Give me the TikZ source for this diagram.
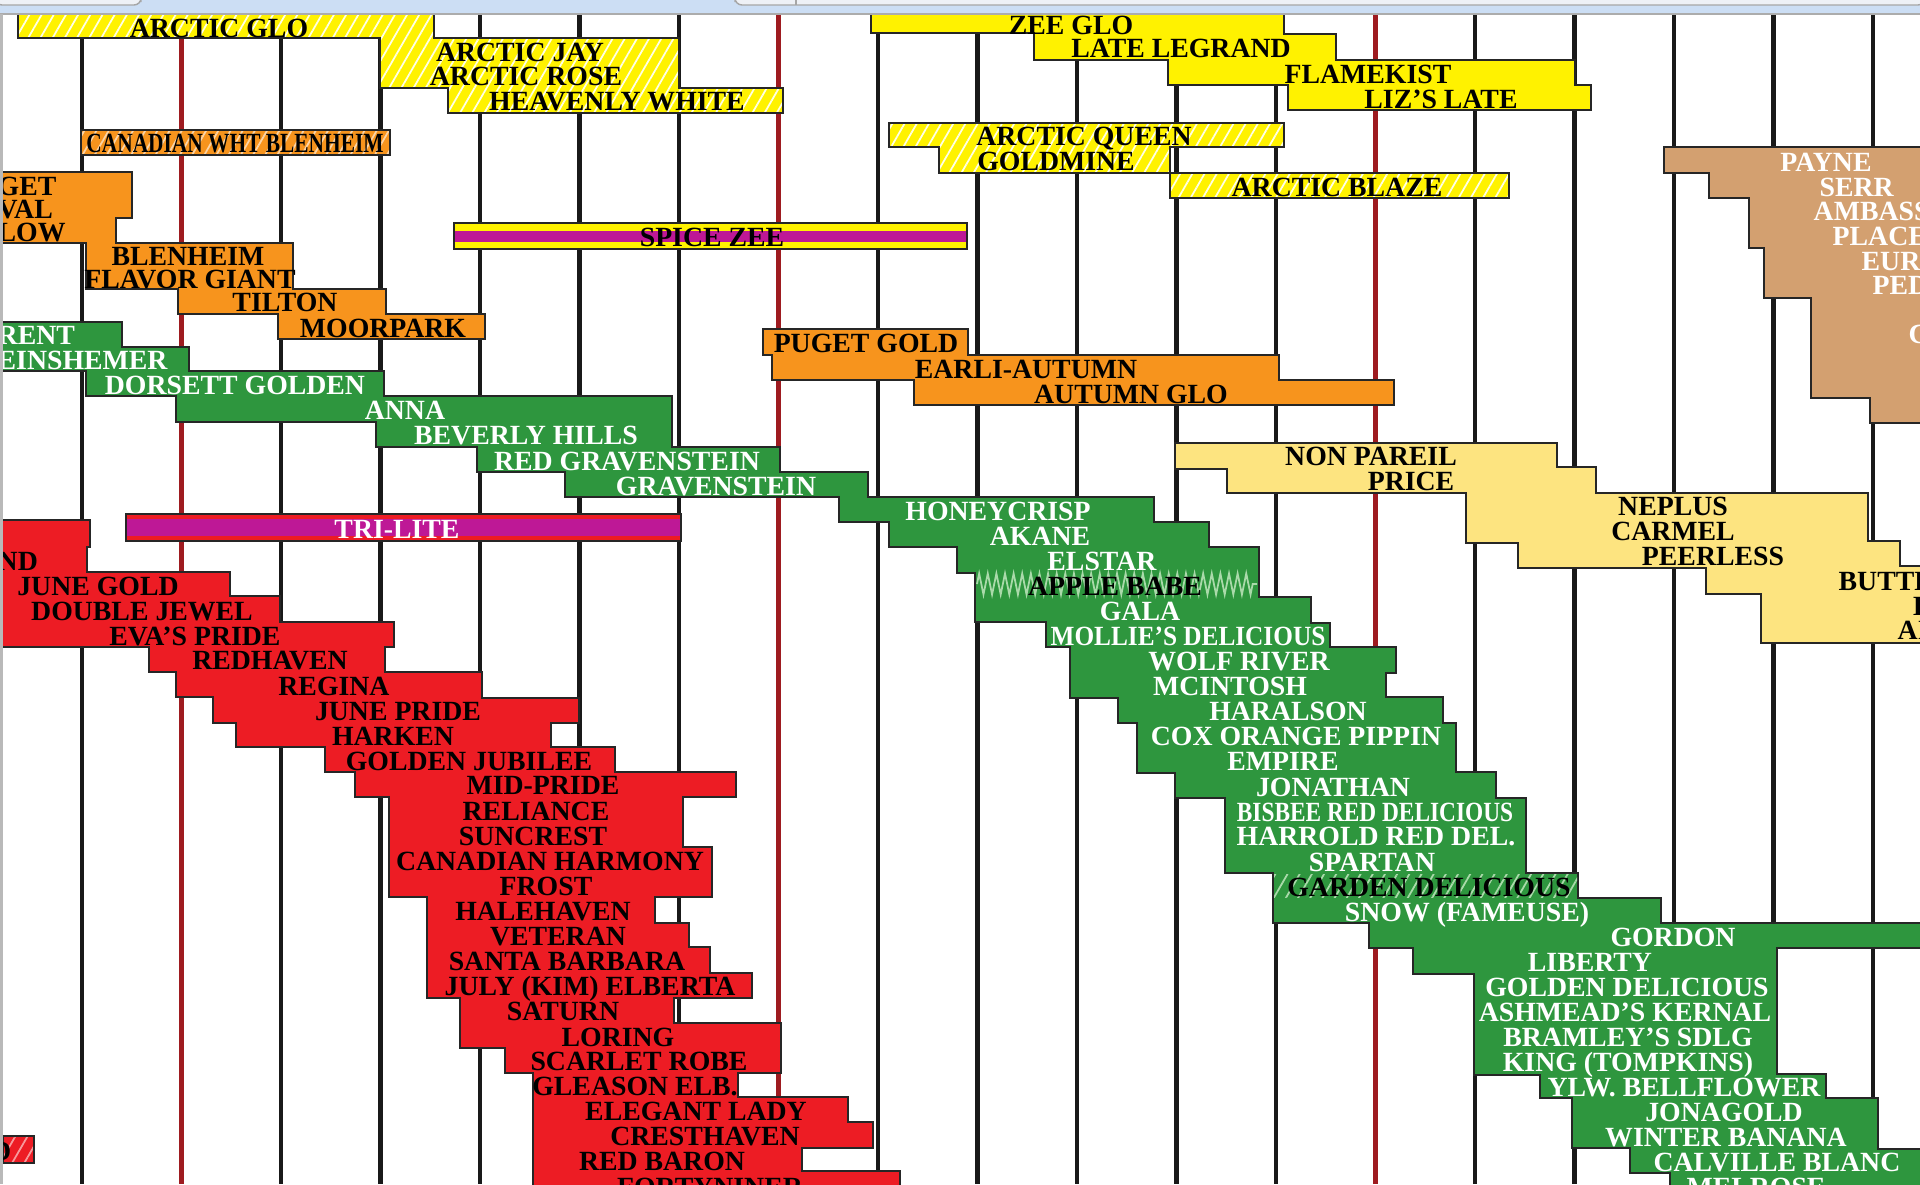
\documentclass[tikz,border=0pt]{standalone}
\usepackage{fontspec}
\setmainfont{Liberation Serif}
\usepackage{xcolor}
\usepackage{graphicx}
\usetikzlibrary{patterns.meta,decorations.pathmorphing}

\definecolor{chartyellow}{RGB}{255,242,0}
\definecolor{chartorange}{RGB}{247,148,29}
\definecolor{chartgreen}{RGB}{46,150,62}
\definecolor{chartred}{RGB}{237,28,36}
\definecolor{paleyellow}{RGB}{253,228,128}
\definecolor{chartan}{RGB}{211,160,112}
\definecolor{spicemagenta}{RGB}{190,24,150}
\definecolor{darkred}{RGB}{158,27,32}
\definecolor{chromeblue}{RGB}{204,222,244}
\definecolor{chromegray}{RGB}{238,241,246}
\definecolor{zigcolor}{RGB}{170,218,170}

\tikzset{
  bar/.style={draw=black!85, line width=0.35pt},
  lbl/.style={inner sep=0pt, text height=0.66em, text depth=0pt, yshift=0.4pt, font=\fontsize{7.9}{8}\selectfont\bfseries},
  wlbl/.style={lbl, text=white},
  gridline/.style={line width=1.25pt, black!90},
  redgrid/.style={line width=1.7pt, darkred},
  hatch/.style={pattern={Lines[angle=60, distance=3pt, line width=0.5pt]}, pattern color=#1},
}

\begin{document}
\begin{tikzpicture}[x=0.01cm, y=-0.01cm]

% Page size and background
\useasboundingbox (0,0) rectangle (1920,1184);
\fill[white] (0,0) rectangle (1920,1184);
\clip (0,0) rectangle (1920,1184);

% Grid parameters
\def\xstart{82} % first line
\def\xstep{99.5} % spacing of the lines

% Draw the vertical lines (every sixth one dark red)
\foreach \k in {0,...,18}{
  \pgfmathsetmacro{\xx}{\xstart+\xstep*\k}
  \pgfmathtruncatemacro{\m}{mod(\k,6)}
  \ifnum\m=1
    \draw[redgrid] (\xx,15) -- (\xx,1184);
  \else
    \draw[gridline] (\xx,15) -- (\xx,1184);
  \fi
}

% Yellow hatched block, top left
\path[fill=chartyellow, postaction={hatch=white!90!yellow}, postaction={bar}]
  (18,12) -- (434,12) -- (434,38) -- (679,38) -- (679,88) -- (783,88) -- (783,113)
  -- (448,113) -- (448,88) -- (380,88) -- (380,38) -- (18,38) -- cycle;

% Orange hatched bar
\path[fill=chartorange, postaction={hatch=white!60!chartorange}, postaction={bar}]
  (81,130) rectangle (390,155);

% Orange staircase, left
\path[fill=chartorange, bar]
  (-5,172) -- (132,172) -- (132,218) -- (116,218) -- (116,243) -- (293,243) -- (293,289)
  -- (386,289) -- (386,314) -- (485,314) -- (485,339) -- (278,339) -- (278,314)
  -- (178,314) -- (178,289) -- (86,289) -- (86,243) -- (-5,243) -- cycle;

% Striped bars
\filldraw[fill=chartyellow, bar] (454,223) rectangle (967,249);
\fill[spicemagenta] (455,231) rectangle (966,242);
\filldraw[fill=chartred, bar] (126,514) rectangle (681,541);
\fill[spicemagenta] (127,519) rectangle (680,536);

% Yellow staircase, top
\path[fill=chartyellow, bar]
  (871,12) -- (1284,12) -- (1284,34) -- (1336,34) -- (1336,60) -- (1575,60) -- (1575,85)
  -- (1591,85) -- (1591,110) -- (1288,110) -- (1288,85) -- (1168,85) -- (1168,60)
  -- (1034,60) -- (1034,33) -- (871,33) -- cycle;

% Yellow hatched staircase, middle
\path[fill=chartyellow, postaction={hatch=white!90!yellow}, postaction={bar}]
  (889,123) -- (1284,123) -- (1284,147) -- (1170,147) -- (1170,173) -- (1509,173)
  -- (1509,198) -- (1170,198) -- (1170,173) -- (939,173) -- (939,147) -- (889,147) -- cycle;

% Orange staircase, middle
\path[fill=chartorange, bar]
  (763,329) -- (968,329) -- (968,355) -- (1279,355) -- (1279,380) -- (1394,380)
  -- (1394,405) -- (914,405) -- (914,380) -- (772,380) -- (772,355) -- (763,355) -- cycle;

% Tan staircase, right
\path[fill=chartan, bar]
  (1664,147) -- (1930,147) -- (1930,423) -- (1870,423) -- (1870,398) -- (1811,398)
  -- (1811,298) -- (1764,298) -- (1764,248) -- (1749,248) -- (1749,198) -- (1709,198)
  -- (1709,173) -- (1664,173) -- cycle;

% Pale yellow staircase
\path[fill=paleyellow, bar]
  (1175,443) -- (1557,443) -- (1557,467) -- (1596,467) -- (1596,493) -- (1868,493)
  -- (1868,541) -- (1900,541) -- (1900,566) -- (1930,566) -- (1930,643) -- (1761,643)
  -- (1761,594) -- (1706,594) -- (1706,568) -- (1518,568) -- (1518,543) -- (1466,543)
  -- (1466,493) -- (1227,493) -- (1227,469) -- (1175,469) -- cycle;

% Green staircase
\path[fill=chartgreen, bar]
  (-5,322) -- (122,322) -- (122,347) -- (189,347) -- (189,371) -- (384,371) -- (384,396)
  -- (672,396) -- (672,447) -- (780,447) -- (780,472) -- (868,472) -- (868,497)
  -- (1154,497) -- (1154,522) -- (1209,522) -- (1209,547) -- (1259,547) -- (1259,597)
  -- (1311,597) -- (1311,623) -- (1330,623) -- (1330,647) -- (1396,647) -- (1396,673)
  -- (1386,673) -- (1386,697) -- (1443,697) -- (1443,723) -- (1456,723) -- (1456,772)
  -- (1496,772) -- (1496,798) -- (1526,798) -- (1526,873) -- (1578,873) -- (1578,898)
  -- (1661,898) -- (1661,923) -- (1930,923) -- (1930,948) -- (1777,948) -- (1777,1074)
  -- (1826,1074) -- (1826,1098) -- (1878,1098) -- (1878,1149) -- (1930,1149)
  -- (1930,1190) -- (1670,1190) -- (1670,1173) -- (1630,1173) -- (1630,1148)
  -- (1572,1148) -- (1572,1098) -- (1540,1098) -- (1540,1075) -- (1474,1075)
  -- (1474,974) -- (1413,974) -- (1413,948) -- (1369,948) -- (1369,923) -- (1273,923)
  -- (1273,873) -- (1225,873) -- (1225,798) -- (1175,798) -- (1175,773) -- (1137,773)
  -- (1137,723) -- (1118,723) -- (1118,698) -- (1070,698) -- (1070,647) -- (1046,647)
  -- (1046,622) -- (975,622) -- (975,573) -- (957,573) -- (957,547) -- (889,547)
  -- (889,522) -- (839,522) -- (839,497) -- (565,497) -- (565,472) -- (477,472)
  -- (477,447) -- (376,447) -- (376,422) -- (176,422) -- (176,396) -- (86,396)
  -- (86,371) -- (-5,371) -- cycle;
\draw[decorate, decoration={zigzag, amplitude=3pt, segment length=2.45pt}, zigcolor, line width=0.5pt]
  (977,584) -- (1257,584);
\fill[hatch=zigcolor] (1274,874) rectangle (1577,897);

% Red staircase
\path[fill=chartred, bar]
  (-5,520) -- (90,520) -- (90,547) -- (87,547) -- (87,572) -- (230,572) -- (230,596)
  -- (280,596) -- (280,622) -- (394,622) -- (394,647) -- (385,647) -- (385,672)
  -- (482,672) -- (482,698) -- (579,698) -- (579,723) -- (551,723) -- (551,747)
  -- (615,747) -- (615,772) -- (736,772) -- (736,797) -- (683,797) -- (683,847)
  -- (712,847) -- (712,897) -- (655,897) -- (655,923) -- (689,923) -- (689,947)
  -- (710,947) -- (710,973) -- (752,973) -- (752,998) -- (674,998) -- (674,1023)
  -- (781,1023) -- (781,1073) -- (738,1073) -- (738,1097) -- (848,1097) -- (848,1122)
  -- (873,1122) -- (873,1148) -- (802,1148) -- (802,1171) -- (900,1171) -- (900,1190)
  -- (533,1190) -- (533,1073) -- (505,1073) -- (505,1048) -- (460,1048) -- (460,998)
  -- (427,998) -- (427,897) -- (389,897) -- (389,797) -- (355,797) -- (355,772)
  -- (325,772) -- (325,747) -- (236,747) -- (236,723) -- (213,723) -- (213,697)
  -- (176,697) -- (176,672) -- (149,672) -- (149,647) -- (-5,647) -- cycle;

% Small red hatched box, bottom left
\path[fill=chartred, postaction={hatch=white!55!chartred}, postaction={bar}]
  (3,1136) rectangle (34,1163);
\node[lbl, anchor=east] (dsmall) at (12,1150) {D};

% Labels: yellow and orange
\node[lbl] (arcticglo) at (219,27) {ARCTIC GLO};
\node[lbl] (arcticjay) at (520,51) {ARCTIC JAY};
\node[lbl] (arcticrose) at (526,75) {ARCTIC ROSE};
\node[lbl] (heavenly) at (617,100) {HEAVENLY WHITE};
\node[lbl] (canwhite) at (235,142) {\scalebox{0.77}[1]{CANADIAN WHT BLENHEIM}};
\node[lbl, anchor=west] (get) at (-3,185) {GET};
\node[lbl, anchor=west] (val) at (-3,208) {VAL};
\node[lbl, anchor=west] (low) at (-3,231) {LOW};
\node[lbl] (blenheim) at (188,255) {BLENHEIM};
\node[lbl] (flavor) at (190,278) {FLAVOR GIANT};
\node[lbl] (tilton) at (285,301) {TILTON};
\node[lbl] (moorpark) at (383,327) {MOORPARK};
\node[lbl] (spicezee) at (712,236) {SPICE ZEE};
\node[lbl] (zeeglo) at (1071,24) {ZEE GLO};
\node[lbl] (legrand) at (1181,47) {LATE LEGRAND};
\node[lbl] (flamekist) at (1368,73) {FLAMEKIST};
\node[lbl] (lizlate) at (1441,98) {LIZ’S LATE};
\node[lbl] (arcticqueen) at (1084,135) {ARCTIC QUEEN};
\node[lbl] (goldmine) at (1056,160) {GOLDMINE};
\node[lbl] (arcticblaze) at (1337,186) {ARCTIC BLAZE};
\node[lbl] (pugetgold) at (866,342) {PUGET GOLD};
\node[lbl] (earliautumn) at (1026,368) {EARLI-AUTUMN};
\node[lbl] (autumnglo) at (1131,393) {AUTUMN GLO};

% Labels: tan and pale yellow
\node[wlbl] (payne) at (1826,161) {PAYNE};
\node[wlbl, anchor=west] (serr) at (1819,186) {SERR};
\node[wlbl, anchor=west] (ambass) at (1813,210) {AMBASS};
\node[wlbl, anchor=west] (place) at (1832,235) {PLACE};
\node[wlbl, anchor=west] (eur) at (1861,260) {EUR};
\node[wlbl, anchor=west] (ped) at (1872,284) {PED};
\node[wlbl, anchor=west] (cpart) at (1908,333) {C};
\node[lbl] (nonpareil) at (1371,455) {NON PAREIL};
\node[lbl] (price) at (1411,480) {PRICE};
\node[lbl] (neplus) at (1673,505) {NEPLUS};
\node[lbl] (carmel) at (1673,530) {CARMEL};
\node[lbl] (peerless) at (1713,555) {PEERLESS};
\node[lbl, anchor=west] (butte) at (1838,580) {BUTTE};
\node[lbl, anchor=west] (ipart) at (1912,605) {I};
\node[lbl, anchor=west] (aipart) at (1897,629) {AI};

% Labels: green
\node[wlbl, anchor=west] (rent) at (-3,334) {RENT};
\node[wlbl, anchor=west] (einshemer) at (-3,359) {EINSHEMER};
\node[wlbl] (dorsett) at (235,384) {DORSETT GOLDEN};
\node[wlbl] (anna) at (405,409) {ANNA};
\node[wlbl] (beverly) at (526,434) {BEVERLY HILLS};
\node[wlbl] (redgrav) at (627,460) {RED GRAVENSTEIN};
\node[wlbl] (grav) at (716,485) {GRAVENSTEIN};
\node[wlbl] (honeycrisp) at (998,510) {HONEYCRISP};
\node[wlbl] (akane) at (1040,535) {AKANE};
\node[wlbl] (elstar) at (1102,560) {ELSTAR};
\node[lbl] (applebabe) at (1115,585) {APPLE BABE};
\node[wlbl] (gala) at (1140,610) {GALA};
\node[wlbl] (mollie) at (1188,635) {\scalebox{0.91}[1]{MOLLIE'S DELICIOUS}};
\node[wlbl] (wolfriver) at (1239,660) {WOLF RIVER};
\node[wlbl] (mcintosh) at (1230,685) {MCINTOSH};
\node[wlbl] (haralson) at (1288,710) {HARALSON};
\node[wlbl] (cox) at (1296,735) {COX ORANGE PIPPIN};
\node[wlbl] (empire) at (1283,760) {EMPIRE};
\node[wlbl] (jonathan) at (1333,786) {JONATHAN};
\node[wlbl] (bisbee) at (1375,811) {\scalebox{0.84}[1]{BISBEE RED DELICIOUS}};
\node[wlbl] (harrold) at (1376,835) {HARROLD RED DEL.};
\node[wlbl] (spartan) at (1372,861) {SPARTAN};
\node[lbl] (garden) at (1429,886) {GARDEN DELICIOUS};
\node[wlbl] (snow) at (1467,911) {SNOW (FAMEUSE)};
\node[wlbl] (gordon) at (1673,936) {GORDON};
\node[wlbl] (liberty) at (1590,961) {LIBERTY};
\node[wlbl] (goldendel) at (1627,986) {GOLDEN DELICIOUS};
\node[wlbl] (ashmead) at (1625,1011) {ASHMEAD’S KERNAL};
\node[wlbl] (bramley) at (1628,1036) {BRAMLEY’S SDLG};
\node[wlbl] (king) at (1628,1061) {KING (TOMPKINS)};
\node[wlbl] (ylw) at (1684,1086) {YLW. BELLFLOWER};
\node[wlbl] (jonagold) at (1724,1111) {JONAGOLD};
\node[wlbl] (winterbanana) at (1726,1136) {WINTER BANANA};
\node[wlbl] (calville) at (1777,1161) {CALVILLE BLANC};
\node[wlbl] (melrose) at (1756,1186) {MELROSE};

% Labels: red
\node[wlbl] (trilite) at (397,528) {TRI-LITE};
\node[lbl, anchor=west] (nd) at (-3,560) {ND};
\node[lbl] (junegold) at (98,585) {JUNE GOLD};
\node[lbl] (doublejewel) at (142,610) {DOUBLE JEWEL};
\node[lbl] (evaspride) at (195,635) {EVA'S PRIDE};
\node[lbl] (redhaven) at (270,659) {REDHAVEN};
\node[lbl] (regina) at (334,685) {REGINA};
\node[lbl] (junepride) at (398,710) {JUNE PRIDE};
\node[lbl] (harken) at (393,735) {HARKEN};
\node[lbl] (goldenjub) at (469,760) {GOLDEN JUBILEE};
\node[lbl] (midpride) at (543,784) {MID-PRIDE};
\node[lbl] (reliance) at (536,810) {RELIANCE};
\node[lbl] (suncrest) at (533,835) {SUNCREST};
\node[lbl] (canharmony) at (550,860) {CANADIAN HARMONY};
\node[lbl] (frost) at (546,885) {FROST};
\node[lbl] (halehaven) at (543,910) {HALEHAVEN};
\node[lbl] (veteran) at (558,935) {VETERAN};
\node[lbl] (santabarbara) at (567,960) {SANTA BARBARA};
\node[lbl] (julyelberta) at (590,985) {JULY (KIM) ELBERTA};
\node[lbl] (saturn) at (563,1010) {SATURN};
\node[lbl] (loring) at (618,1036) {LORING};
\node[lbl] (scarletrobe) at (639,1060) {SCARLET ROBE};
\node[lbl] (gleason) at (635,1085) {GLEASON ELB.};
\node[lbl] (elegantlady) at (696,1110) {ELEGANT LADY};
\node[lbl] (cresthaven) at (705,1135) {CRESTHAVEN};
\node[lbl] (redbaron) at (662,1160) {RED BARON};
\node[lbl] (fortyniner) at (710,1186) {FORTYNINER};

% Browser chrome at the top and left border
\fill[chromeblue] (0,0) rectangle (1920,14);
\filldraw[fill=chromegray, draw=gray!70, rounded corners=2pt] (-5,-5) rectangle (141,5);
\filldraw[fill=chromegray, draw=gray!70, rounded corners=2pt] (735,-5) rectangle (1925,5);
\draw[gray!70] (796,-5) -- (796,5);
\draw[gray!65, line width=0.7pt] (0,14) -- (1920,14);
\draw[gray!55, line width=0.9pt] (1.5,14) -- (1.5,1184);
\end{tikzpicture}
\end{document}
